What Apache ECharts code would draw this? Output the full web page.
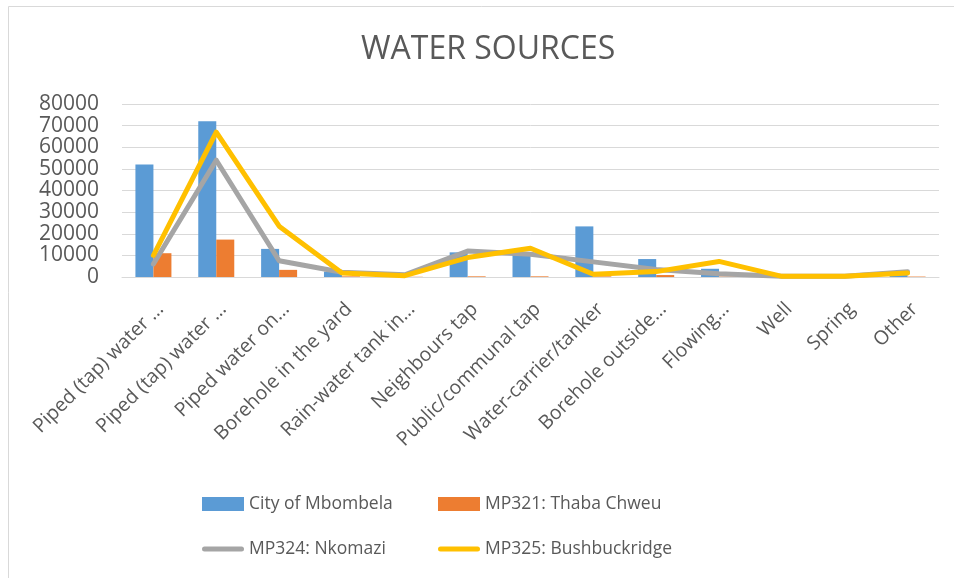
<!DOCTYPE html>
<html>
<head>
<meta charset="utf-8">
<script src="https://cdn.jsdelivr.net/npm/echarts@6/dist/echarts.min.js"></script>
<style>
  html, body { margin: 0; padding: 0; background: #fff; }
  #main { width: 954px; height: 578px; }
</style>
</head>
<body>
<div id="main"></div>
<script>
// categories (labels truncated the same way as in the source chart)
const categories = [
  "Piped (tap) water …", "Piped (tap) water …", "Piped water on…",
  "Borehole in the yard", "Rain-water tank in…", "Neighbours tap",
  "Public/communal tap", "Water-carrier/tanker", "Borehole outside…",
  "Flowing…", "Well", "Spring", "Other"
];

// series values
const mbombela = [52000, 72000, 13000, 2500, 500, 11400, 11000, 23400, 8300, 3800, 300, 200, 900];
const thabaChweu = [11000, 17300, 3300, 300, 100, 300, 300, 300, 900, 200, 100, 100, 200];
const nkomazi = [6000, 54000, 7500, 2200, 1000, 12000, 10500, 7000, 3500, 1500, 300, 300, 2400];
const bushbuckridge = [10000, 67000, 23500, 1800, 600, 9000, 13300, 1300, 2500, 7200, 300, 300, 1900];

const yTicks = [0, 10000, 20000, 30000, 40000, 50000, 60000, 70000, 80000];

const names = ["City of Mbombela", "MP321: Thaba Chweu", "MP324: Nkomazi", "MP325: Bushbuckridge"];
const colors = ["#5b9bd5", "#ed7d31", "#a5a5a5", "#ffc000"];

const txt = "#595959";
const font = "Open Sans";
const lineIcon = "path://M2.5,0 L39.5,0 A2.5,2.5 0 0 1 39.5,5 L2.5,5 A2.5,2.5 0 0 1 2.5,0 Z";

const myChart = echarts.init(document.getElementById("main"));

const legendBase = {
  orient: "vertical",
  padding: 0,
  itemWidth: 42,
  itemHeight: 14,
  itemGap: 27,
  textStyle: { color: txt, fontFamily: font, fontSize: 17.5, lineHeight: 14 }
};

const option = {
  backgroundColor: "#fff",
  textStyle: { fontFamily: font },
  graphic: [{
    type: "rect",
    shape: { x: 8.5, y: 6.5, width: 1000, height: 1000 },
    style: { fill: "none", stroke: "#d9d9d9", lineWidth: 1 },
    silent: true
  }],
  title: {
    text: "WATER SOURCES",
    left: 356,
    top: 29,
    textStyle: { color: txt, fontFamily: font, fontSize: 32, fontWeight: "normal" }
  },
  legend: [
    Object.assign({}, legendBase, {
      left: 202, top: 495,
      data: [
        { name: names[0], icon: "rect", itemStyle: { color: colors[0] } },
        { name: names[2], icon: lineIcon, itemStyle: { color: colors[2] } }
      ]
    }),
    Object.assign({}, legendBase, {
      left: 438, top: 495,
      data: [
        { name: names[1], icon: "rect", itemStyle: { color: colors[1] } },
        { name: names[3], icon: lineIcon, itemStyle: { color: colors[3] } }
      ]
    })
  ],
  grid: { left: 122, right: 15, top: 104, bottom: 301, containLabel: false, outerBoundsMode: "none" },
  xAxis: {
    type: "category",
    data: categories,
    axisLine: { lineStyle: { color: "#d9d9d9", width: 1 } },
    axisTick: { show: false },
    axisLabel: {
      interval: 0,
      rotate: 45,
      align: "right",
      verticalAlign: "top",
      margin: 22,
      color: txt,
      fontFamily: font,
      fontSize: 19.5
    }
  },
  yAxis: {
    type: "value",
    min: yTicks[0],
    max: yTicks[yTicks.length - 1],
    interval: yTicks[1] - yTicks[0],
    axisLine: { show: false },
    axisTick: { show: false },
    splitLine: { lineStyle: { color: "#d9d9d9", width: 1 } },
    axisLabel: {
      color: txt, fontFamily: font, fontSize: 21, margin: 23,
      formatter: (v) => String(v)
    }
  },
  series: [
    {
      name: names[0], type: "bar", data: mbombela,
      barWidth: 18, barGap: "0%",
      itemStyle: { color: colors[0] }
    },
    {
      name: names[1], type: "bar", data: thabaChweu,
      barWidth: 18, barGap: "0%",
      itemStyle: { color: colors[1] }
    },
    {
      name: names[2], type: "line", data: nkomazi,
      symbol: "none", smooth: false,
      itemStyle: { color: colors[2] },
      lineStyle: { color: colors[2], width: 5, cap: "round", join: "round" }
    },
    {
      name: names[3], type: "line", data: bushbuckridge,
      symbol: "none", smooth: false,
      itemStyle: { color: colors[3] },
      lineStyle: { color: colors[3], width: 5, cap: "round", join: "round" }
    }
  ]
};

option && myChart.setOption(option);
</script>
</body>
</html>
